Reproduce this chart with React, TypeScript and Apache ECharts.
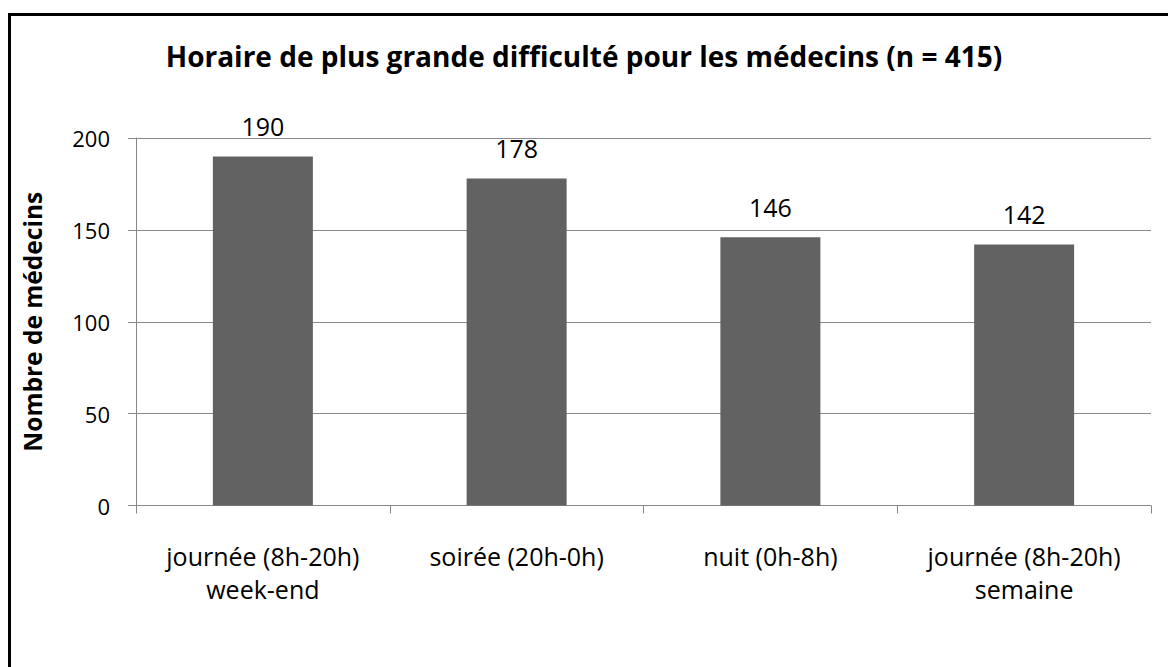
import React, { useEffect, useRef } from "react";
import * as echarts from "echarts";

const titleText = "Horaire de plus grande difficulté pour les médecins (n = 415)";
const yAxisName = "Nombre de médecins";
const categories = [
  "journée (8h-20h)\nweek-end",
  "soirée (20h-0h)",
  "nuit (0h-8h)",
  "journée (8h-20h)\nsemaine",
];
const values = [190, 178, 146, 142];
const yTicks = { min: 0, max: 200, interval: 50 };

const FONT = "'Open Sans', Lato, sans-serif";
const AXIS_GRAY = "#888888";

export default function App() {
  const ref = useRef<HTMLDivElement>(null);
  useEffect(() => {
    if (!ref.current) return;
    const chart = echarts.init(ref.current, null, { renderer: "svg" });
    chart.setOption({
      animation: false,
      backgroundColor: "#ffffff",
      textStyle: { fontFamily: FONT },
      title: {
        text: titleText,
        left: "center",
        top: 37,
        textStyle: { fontFamily: FONT, fontSize: 28, fontWeight: "bold", color: "#000" },
      },
      graphic: [
        {
          type: "rect",
          shape: { x: 9.5, y: 14.5, width: 1300, height: 800 },
          style: { fill: "none", stroke: "#000", lineWidth: 3 },
          silent: true,
        },
      ],
      grid: { left: 136, right: 17, top: 138, bottom: 161.5, containLabel: false },
      xAxis: {
        type: "category",
        data: categories,
        axisLine: { show: true, lineStyle: { color: AXIS_GRAY, width: 1 } },
        axisTick: { show: true, length: 8, alignWithLabel: false, lineStyle: { color: AXIS_GRAY } },
        axisLabel: {
          margin: 34,
          fontFamily: FONT,
          fontSize: 25,
          lineHeight: 33,
          color: "#000",
          interval: 0,
        },
      },
      yAxis: {
        type: "value",
        min: yTicks.min,
        max: yTicks.max,
        interval: yTicks.interval,
        name: yAxisName,
        nameLocation: "middle",
        nameGap: 91,
        nameTextStyle: { fontFamily: FONT, fontSize: 24.5, fontWeight: "bold", color: "#000" },
        axisLine: { show: true, lineStyle: { color: AXIS_GRAY, width: 1 } },
        axisTick: { show: true, length: 8, lineStyle: { color: AXIS_GRAY } },
        splitLine: { show: true, lineStyle: { color: AXIS_GRAY, width: 1 } },
        axisLabel: { margin: 26, fontFamily: FONT, fontSize: 22, color: "#000" },
      },
      series: [
        {
          type: "bar",
          data: values,
          barWidth: 100,
          itemStyle: { color: "#626262" },
          label: {
            show: true,
            position: "top",
            distance: 18,
            fontFamily: FONT,
            fontSize: 25,
            color: "#000",
          },
        },
      ],
    });
    return () => chart.dispose();
  }, []);
  return (
    <div
      ref={ref}
      style={{ position: "absolute", left: 0, top: 0, width: 1168, height: 667 }}
    />
  );
}
